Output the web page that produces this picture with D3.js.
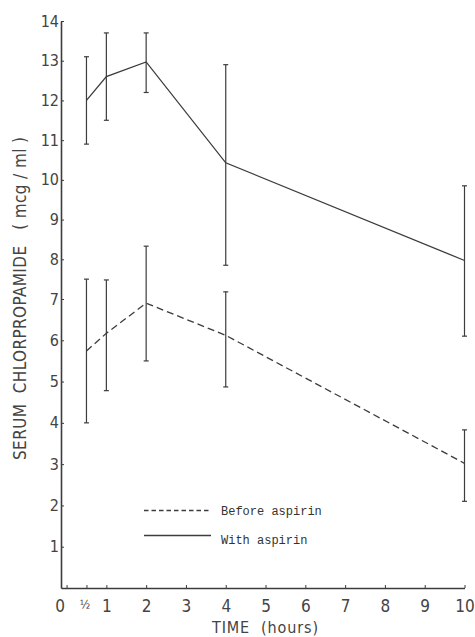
<!DOCTYPE html>
<html>
<head>
<meta charset="utf-8">
<script src="https://cdn.jsdelivr.net/npm/d3@7"></script>
<style>
  html, body { margin: 0; padding: 0; background: #fff; }
  svg { display: block; }
</style>
</head>
<body>
<svg id="chart" width="475" height="637"></svg>
<script>
// ---- Data ----
const times = [0.5, 1, 2, 4, 10];
const withMean = [12.0, 12.6, 12.97, 10.43, 7.97];
const withLow  = [10.9, 11.5, 12.2, 7.85, 6.1];
const withHigh = [13.1, 13.7, 13.7, 12.9, 9.85];
const beforeMean = [5.74, 6.17, 6.9, 6.12, 3.02];
const beforeLow  = [4.0, 4.78, 5.5, 4.87, 2.1];
const beforeHigh = [7.5, 7.48, 8.33, 7.18, 3.83];
const xTickValues = [0, 0.5, 1, 2, 3, 4, 5, 6, 7, 8, 9, 10];
const yTickValues = [1, 2, 3, 4, 5, 6, 7, 8, 9, 10, 11, 12, 13, 14];
const legendLabels = ["Before aspirin", "With aspirin"];
const xTitle = "TIME  (hours)";
const yTitle = "SERUM  CHLORPROPAMIDE   ( mcg / ml )";

const ink = "#3c3c3c";
const svg = d3.select("#chart");

const x = d3.scaleLinear().domain([-0.14, 10]).range([61, 464.5]);
const y = d3.scaleLinear().domain([0, 7, 14]).range([588, 299, 21]);

// ---- Axes ----
const xAxis = d3.axisBottom(x)
  .tickValues(xTickValues)
  .tickSizeInner(-3).tickSizeOuter(0).tickPadding(12)
  .tickFormat(d => d === 0.5 ? "\u00BD" : d3.format("d")(d));
const gx = svg.append("g").attr("transform", "translate(0,588)").call(xAxis);
gx.select(".domain").attr("stroke", ink).attr("stroke-width", 1.6);
gx.selectAll(".tick line").attr("stroke", ink).attr("stroke-width", 1);
gx.selectAll(".tick text")
  .attr("fill", "#444")
  .style("font-family", "'DejaVu Sans Condensed', 'DejaVu Sans', sans-serif")
  .style("font-size", d => d === 0.5 ? "12px" : "17px")
  .attr("dx", d => d === 0 ? -7 : (d === 0.5 ? -2 : 0));

const yAxis = d3.axisLeft(y)
  .tickValues(yTickValues)
  .tickSizeInner(-3).tickSizeOuter(0).tickPadding(2)
  .tickFormat(d3.format("d"));
const gy = svg.append("g").attr("transform", "translate(61,0)").call(yAxis);
gy.select(".domain").attr("stroke", ink).attr("stroke-width", 1.6);
gy.selectAll(".tick line").attr("stroke", ink).attr("stroke-width", 1);
gy.selectAll(".tick text")
  .attr("fill", "#444")
  .style("font-family", "'DejaVu Sans Condensed', 'DejaVu Sans', sans-serif")
  .style("font-size", "16px");

// ---- Titles ----
svg.append("text")
  .attr("x", 265).attr("y", 633)
  .attr("text-anchor", "middle")
  .attr("fill", "#444")
  .attr("textLength", 106).attr("lengthAdjust", "spacing")
  .style("font-family", "'DejaVu Sans Condensed', 'DejaVu Sans', sans-serif")
  .style("font-size", "16px")
  .style("white-space", "pre")
  .text(xTitle);

svg.append("text")
  .attr("transform", "translate(26,298.5) rotate(-90)")
  .attr("text-anchor", "middle")
  .attr("fill", "#444")
  .attr("textLength", 323).attr("lengthAdjust", "spacing")
  .style("font-family", "'DejaVu Sans Condensed', 'DejaVu Sans', sans-serif")
  .style("font-size", "17px")
  .style("white-space", "pre")
  .text(yTitle);

// ---- Series ----
function drawSeries(means, lows, highs, dash) {
  const pts = times.map((t, i) => [t, means[i]]);
  const line = d3.line().x(d => x(d[0])).y(d => y(d[1]));
  svg.append("path")
    .datum(pts)
    .attr("d", line)
    .attr("fill", "none")
    .attr("stroke", ink)
    .attr("stroke-width", 1.3)
    .attr("stroke-dasharray", dash);

  const g = svg.append("g").attr("stroke", ink).attr("stroke-width", 1.2);
  times.forEach((t, i) => {
    const cx = x(t);
    g.append("line").attr("x1", cx).attr("x2", cx).attr("y1", y(lows[i])).attr("y2", y(highs[i]));
    g.append("line").attr("x1", cx - 2.5).attr("x2", cx + 2.5).attr("y1", y(lows[i])).attr("y2", y(lows[i]));
    g.append("line").attr("x1", cx - 2.5).attr("x2", cx + 2.5).attr("y1", y(highs[i])).attr("y2", y(highs[i]));
  });
}
drawSeries(withMean, withLow, withHigh, null);
drawSeries(beforeMean, beforeLow, beforeHigh, "7,4");

// ---- Legend ----
const legendStyles = [
  { dash: "4.5,3", ly: 510.5, ty: 510.5 },
  { dash: null, ly: 535.5, ty: 540 }
];
legendLabels.forEach((lab, i) => {
  const s = legendStyles[i];
  svg.append("line")
    .attr("x1", 144).attr("x2", 211)
    .attr("y1", s.ly).attr("y2", s.ly)
    .attr("stroke", ink).attr("stroke-width", 1.3)
    .attr("stroke-dasharray", s.dash);
  svg.append("text")
    .attr("x", 221).attr("y", s.ty)
    .attr("dy", "0.35em")
    .attr("fill", "#333")
    .style("font-family", "'Liberation Mono', 'DejaVu Sans Mono', monospace")
    .style("font-size", "12px")
    .text(lab);
});
</script>
</body>
</html>
